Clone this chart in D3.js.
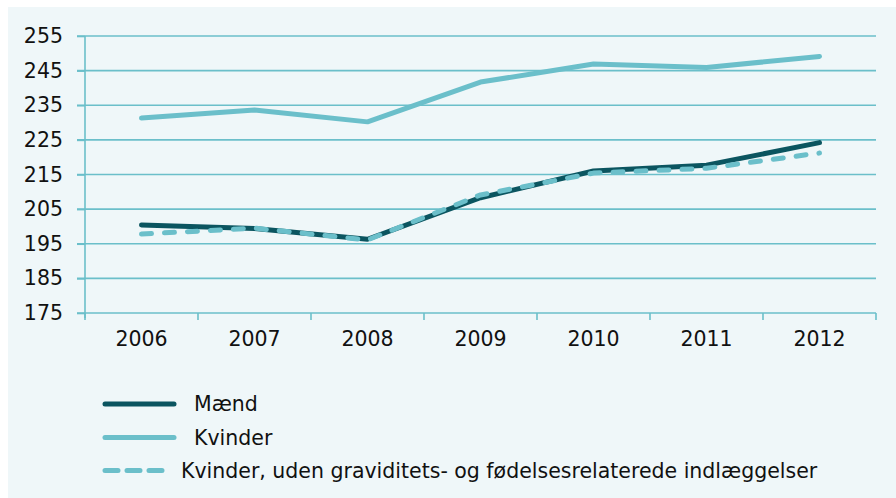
<!DOCTYPE html>
<html><head><meta charset="utf-8">
<script src="https://cdn.jsdelivr.net/npm/d3@7"></script>
<style>body{margin:0;background:#fff}svg{display:block}</style>
</head><body>
<svg id="c" width="896" height="498"></svg>
<script>
const years = ["2006","2007","2008","2009","2010","2011","2012"];
const maend = [200.4, 199.4, 196.3, 208.3, 216.0, 217.7, 224.2];
const kvinder = [231.3, 233.6, 230.2, 241.7, 246.9, 245.9, 249.1];
const kvinderUden = [197.8, 199.5, 196.1, 209.1, 215.4, 216.8, 221.2];
const yTicks = [175,185,195,205,215,225,235,245,255];
const legendLabels = ["Mænd","Kvinder","Kvinder, uden graviditets- og fødelsesrelaterede indlæggelser"];

const dark = "#0b5560", light = "#6bbfca", grid = "#6bbfca";
const svg = d3.select("#c");
svg.append("rect").attr("x",8).attr("y",7).attr("width",888).attr("height",491).attr("fill","#eff7f9");

const L = 85, R = 876, T = 36, B = 313;
const x = d3.scaleBand().domain(years).range([L,R]);
const y = d3.scaleLinear().domain([175,255]).range([B,T]);

// gridlines
svg.append("g").selectAll("line").data(yTicks).join("line")
  .attr("x1",L-8).attr("x2",R).attr("y1",d=>y(d)).attr("y2",d=>y(d))
  .attr("stroke",grid).attr("stroke-width",1.6);

// y axis
const ya = svg.append("g").attr("transform",`translate(${L},0)`)
  .call(d3.axisLeft(y).tickValues(yTicks).tickSize(8).tickPadding(14));
ya.select(".domain").attr("stroke",grid).attr("stroke-width",1.6).attr("d",`M0,${T}V${B+5}`);
ya.selectAll(".tick line").attr("stroke",grid).attr("stroke-width",1.6);
ya.selectAll("text").attr("font-family","DejaVu Sans").attr("font-size",20.5).attr("fill","#111");

// x axis
const xa = svg.append("g").attr("transform",`translate(0,${B})`)
  .call(d3.axisBottom(x).tickSize(0).tickPadding(18));
xa.select(".domain").remove();
xa.selectAll("text").attr("font-family","DejaVu Sans").attr("font-size",20.5).attr("fill","#111");
svg.append("g").selectAll("line").data(years.map((d,i)=>i).concat([years.length])).join("line")
  .attr("x1",i=>L+i*x.step()).attr("x2",i=>L+i*x.step())
  .attr("y1",B).attr("y2",B+7).attr("stroke",grid).attr("stroke-width",1.6);

const line = d3.line().x((d,i)=>x(years[i])+x.bandwidth()/2).y(d=>y(d));
const series = [
  {vals:kvinder,color:light,dash:null},
  {vals:maend,color:dark,dash:null},
  {vals:kvinderUden,color:light,dash:"10,13"}
];
series.forEach(s=>{
  svg.append("path").datum(s.vals).attr("d",line).attr("fill","none")
    .attr("stroke",s.color).attr("stroke-width",5).attr("stroke-linecap","round")
    .attr("stroke-linejoin","round").attr("stroke-dasharray",s.dash);
});

// legend
const leg = [
  {label:legendLabels[0],color:dark,dash:null,y:404,tx:194},
  {label:legendLabels[1],color:light,dash:null,y:437.5,tx:194},
  {label:legendLabels[2],color:light,dash:"13,9",y:470.5,tx:181}
];
leg.forEach(l=>{
  svg.append("line").attr("x1",105).attr("x2",l.dash?164:174).attr("y1",l.y).attr("y2",l.y)
    .attr("stroke",l.color).attr("stroke-width",5).attr("stroke-linecap","round").attr("stroke-dasharray",l.dash);
  svg.append("text").attr("x",l.tx).attr("y",l.y+7).text(l.label)
    .attr("font-family","DejaVu Sans").attr("font-size",20.5).attr("fill","#111");
});
</script>
</body></html>
